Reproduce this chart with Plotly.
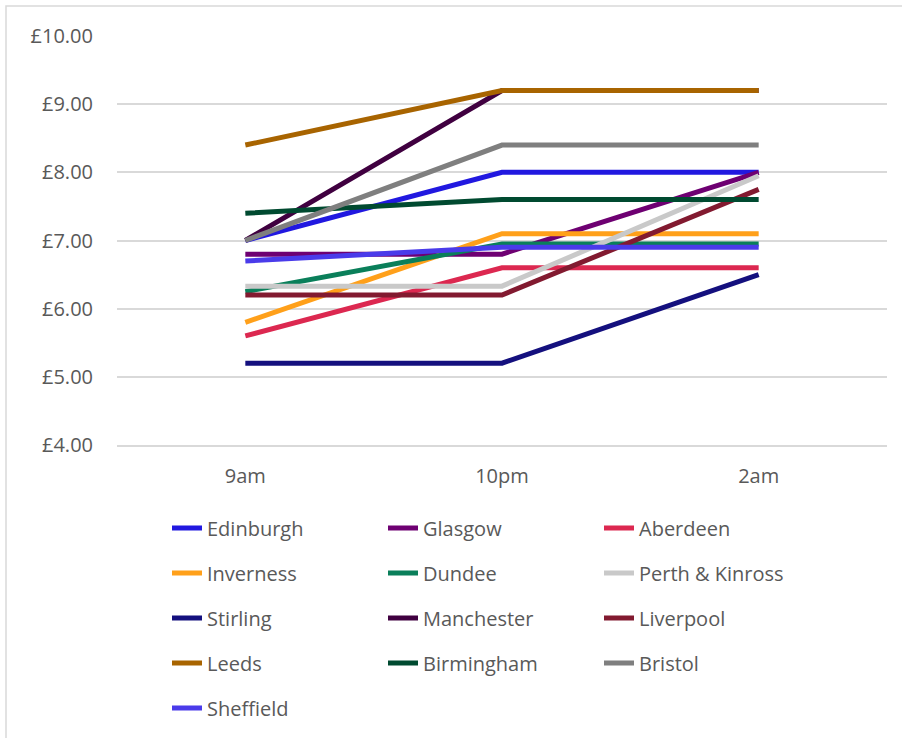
import plotly.graph_objects as go

times = ["9am", "10pm", "2am"]

cities = ["Edinburgh", "Glasgow", "Aberdeen", "Inverness", "Dundee", "Perth & Kinross",
          "Stirling", "Manchester", "Liverpool", "Leeds", "Birmingham", "Bristol", "Sheffield"]

edinburgh = [7.00, 8.00, 8.00]
glasgow = [6.80, 6.80, 8.00]
aberdeen = [5.60, 6.60, 6.60]
inverness = [5.80, 7.10, 7.10]
dundee = [6.25, 6.95, 6.95]
perth = [6.33, 6.33, 7.95]
stirling = [5.20, 5.20, 6.50]
manchester = [7.00, 9.20, 9.20]
liverpool = [6.20, 6.20, 7.75]
leeds = [8.40, 9.20, 9.20]
birmingham = [7.40, 7.60, 7.60]
bristol = [7.00, 8.40, 8.40]
sheffield = [6.70, 6.90, 6.90]

series = [edinburgh, glasgow, aberdeen, inverness, dundee, perth, stirling,
          manchester, liverpool, leeds, birmingham, bristol, sheffield]

colors = ["#2118E0", "#6E0072", "#DC2850", "#FFA01A", "#0A7F5A", "#C9C9C9",
          "#14107E", "#400040", "#821A30", "#A86400", "#004A30", "#7F7F7F", "#4A3BEA"]

y_ticks = [4, 5, 6, 7, 8, 9, 10]
y_tick_text = ["£4.00", "£5.00", "£6.00", "£7.00", "£8.00", "£9.00", "£10.00"]

fig = go.Figure()
for i in range(len(cities)):
    fig.add_trace(go.Scatter(
        x=times, y=series[i], name=cities[i], mode="lines",
        line=dict(color=colors[i], width=5),
        legendgroup=cities[i],
    ))

W, H = 902, 738
L, T, PW, PH = 117, 36, 770, 409
font_fam = "Open Sans, Lato, sans-serif"
fs = 20
fig.update_layout(
    width=W, height=H,
    margin=dict(l=L, r=W - L - PW, t=T, b=H - T - PH, autoexpand=False),
    paper_bgcolor="white", plot_bgcolor="white",
    font=dict(family=font_fam, size=fs, color="#595959"),
    showlegend=True,
    legend=dict(
        orientation="h", x=(167 - L) / PW, xanchor="left",
        yref="container", y=1 - 508.5 / H, yanchor="top",
        traceorder="grouped", tracegroupgap=45 - (1.3 * fs + 3),
        entrywidth=171, entrywidthmode="pixels",
        font=dict(family=font_fam, size=fs, color="#595959"),
        bgcolor="rgba(0,0,0,0)",
    ),
    xaxis=dict(
        type="category", range=[-0.5, 2.5],
        showgrid=False, showline=True, linecolor="#D9D9D9", linewidth=1.5,
        ticks="outside", ticklen=12, tickcolor="rgba(0,0,0,0)",
        tickfont=dict(family=font_fam, size=fs, color="#595959"),
        fixedrange=True,
    ),
    yaxis=dict(
        range=[4, 10], tickvals=y_ticks, ticktext=y_tick_text,
        showgrid=True, gridcolor="#D9D9D9", gridwidth=1.5,
        zeroline=False, showline=False,
        ticks="outside", ticklen=19, tickcolor="rgba(0,0,0,0)",
        tickfont=dict(family=font_fam, size=fs, color="#595959"),
        fixedrange=True,
    ),
    shapes=[dict(
        type="rect", xref="paper", yref="paper",
        x0=(6 - L) / PW, x1=(930 - L) / PW,
        y0=-(760 - T - PH) / PH, y1=1 + (T - 6) / PH,
        line=dict(color="#D9D9D9", width=1.5), fillcolor="rgba(0,0,0,0)",
        layer="below",
    )],
)

fig.write_html("out.html", config={"displayModeBar": False},
               post_script="document.body.style.margin='0';document.body.style.overflow='hidden';")
